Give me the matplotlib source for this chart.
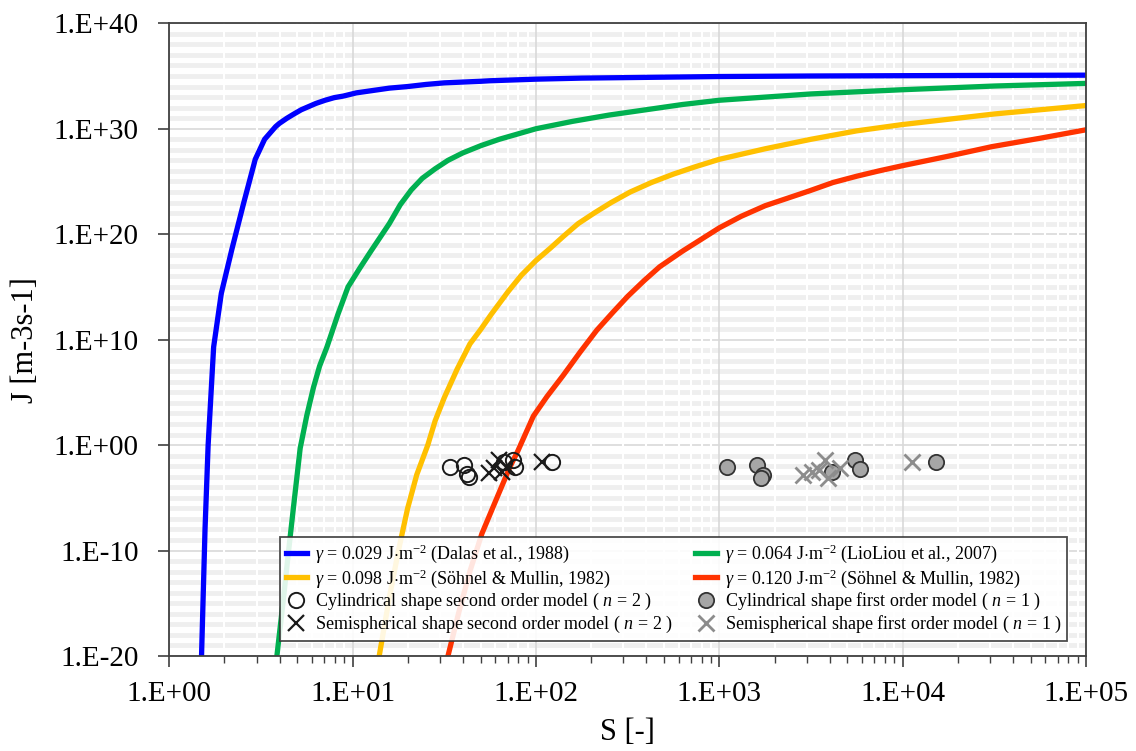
import numpy as np
import matplotlib.pyplot as plt
from matplotlib.ticker import FixedLocator, FuncFormatter, NullFormatter

plt.rcParams['font.family'] = ['Liberation Serif', 'DejaVu Serif']
plt.rcParams['mathtext.fontset'] = 'custom'
plt.rcParams['mathtext.rm'] = 'Liberation Serif'
plt.rcParams['mathtext.it'] = 'Liberation Serif:italic'

# curves: log10(S) and log10(J)
ls_blue = [0.176, 0.195, 0.212, 0.242, 0.284, 0.342, 0.405, 0.469, 0.52, 0.55, 0.58,
           0.60, 0.642, 0.68, 0.72, 0.76, 0.80, 0.85, 0.90, 0.95, 1.02, 1.1, 1.2,
           1.3, 1.4, 1.5, 1.7, 1.75, 2.0, 2.25, 2.5, 2.75, 3.0, 3.5, 4.0, 4.5, 5.0]
lj_blue = [-20, -8, 0, 9.3, 14.4, 18.6, 22.9, 27.1, 29.0, 29.6, 30.2,
           30.5, 31.0, 31.4, 31.8, 32.1, 32.4, 32.7, 32.95, 33.1, 33.4, 33.6, 33.85,
           34.0, 34.2, 34.35, 34.5, 34.55, 34.7, 34.8, 34.85, 34.9, 34.95, 35.0, 35.03, 35.06, 35.08]

ls_green = [0.587, 0.62, 0.651, 0.68, 0.714, 0.75, 0.787, 0.82, 0.86, 0.92, 0.975,
            1.04, 1.1, 1.2, 1.26, 1.32, 1.38, 1.45, 1.52, 1.6, 1.7, 1.8, 1.9,
            2.0, 2.2, 2.4, 2.6, 2.8, 3.0, 3.25, 3.5, 3.75, 4.0, 4.5, 5.0]
lj_green = [-20, -15, -10, -5.5, -0.3, 2.8, 5.5, 7.5, 9.3, 12.4, 15.0,
            16.8, 18.4, 21.0, 22.8, 24.2, 25.3, 26.2, 27.0, 27.7, 28.4, 29.0, 29.5,
            30.0, 30.7, 31.3, 31.8, 32.3, 32.7, 33.0, 33.3, 33.5, 33.7, 34.05, 34.3]

ls_yellow = [1.145, 1.2, 1.25, 1.3, 1.35, 1.41, 1.45, 1.50, 1.57, 1.64, 1.7,
             1.756, 1.85, 1.92, 2.0, 2.08, 2.15, 2.23, 2.317, 2.41, 2.514, 2.63,
             2.75, 2.87, 3.0, 3.25, 3.5, 3.75, 4.0, 4.25, 4.5, 4.75, 5.0]
lj_yellow = [-20, -14.5, -10, -6, -2.8, 0, 2.3, 4.5, 7.2, 9.6, 11.0,
             12.4, 14.6, 16.1, 17.5, 18.7, 19.8, 21.0, 22.0, 23.0, 24.0, 24.9,
             25.7, 26.4, 27.1, 28.1, 29.0, 29.8, 30.4, 30.9, 31.4, 31.8, 32.2]

ls_red = [1.52, 1.58, 1.641, 1.705, 1.787, 1.86, 1.90, 1.986, 2.06, 2.148, 2.24,
          2.332, 2.42, 2.5, 2.59, 2.674, 2.8, 2.9, 3.0, 3.12, 3.25, 3.37, 3.49,
          3.62, 3.75, 3.87, 4.0, 4.25, 4.486, 4.75, 5.0]
lj_red = [-20, -15.8, -11.9, -8.4, -5.0, -2.0, -0.6, 2.75, 4.6, 6.6, 8.8,
          10.9, 12.6, 14.1, 15.6, 16.9, 18.4, 19.5, 20.6, 21.7, 22.7, 23.4, 24.1,
          24.9, 25.5, 26.0, 26.5, 27.4, 28.3, 29.1, 29.9]

# experimental points
s_cyl2 = [34.0, 40.3, 42.0, 42.9, 67.0, 75.4, 77.0, 123]
lj_cyl2 = [-2.06, -1.9, -2.78, -3.0, -1.58, -1.42, -2.06, -1.58]
s_semi2 = [55.1, 58.7, 62.5, 65.2, 69.4, 107.7]
lj_semi2 = [-2.68, -2.2, -1.42, -2.53, -2.06, -1.58]
s_cyl1 = [1099, 1600, 1738, 1690, 4103, 5497, 5853, 15200]
lj_cyl1 = [-2.06, -1.9, -2.84, -3.13, -2.59, -1.42, -2.27, -1.64]
s_semi1 = [2875, 3194, 3500, 3776, 3928, 4571, 11200]
lj_semi1 = [-2.84, -2.53, -2.4, -1.42, -3.13, -2.18, -1.58]

fig = plt.figure(figsize=(11.36, 7.51), dpi=100)
ax = fig.add_axes([0.149, 0.1265, 0.807, 0.8425])

p = lambda v: 10 ** np.array(v, dtype=float)
l1, = ax.plot(p(ls_blue), p(lj_blue), color='#0000FF', lw=3.8,
              label=r'$\gamma$ = 0.029 J$\cdot$m$^{-2}$ (Dalas et al., 1988)')
l2, = ax.plot(p(ls_green), p(lj_green), color='#00B050', lw=3.8,
              label=r'$\gamma$ = 0.064 J$\cdot$m$^{-2}$ (LioLiou et al., 2007)')
l3, = ax.plot(p(ls_yellow), p(lj_yellow), color='#FFC000', lw=3.8,
              label=r'$\gamma$ = 0.098 J$\cdot$m$^{-2}$ (Söhnel & Mullin, 1982)')
l4, = ax.plot(p(ls_red), p(lj_red), color='#FF3300', lw=3.8,
              label=r'$\gamma$ = 0.120 J$\cdot$m$^{-2}$ (Söhnel & Mullin, 1982)')

m1, = ax.plot(s_cyl2, p(lj_cyl2), 'o', ms=11, mfc='none', mec='#1a1a1a', mew=1.4,
              label=r'Cylindrical shape second order model ( $n$ = 2 )')
m2, = ax.plot(s_semi2, p(lj_semi2), 'x', ms=11, color='#1a1a1a', mew=1.6,
              label=r'Semispherical shape second order model ( $n$ = 2 )')
m3, = ax.plot(s_cyl1, p(lj_cyl1), 'o', ms=11, mfc='#a6a6a6', mec='#333333', mew=1.3,
              label=r'Cylindrical shape first order model ( $n$ = 1 )')
m4, = ax.plot(s_semi1, p(lj_semi1), 'x', ms=11, color='#8c8c8c', mew=2.0,
              label=r'Semispherical shape first order model ( $n$ = 1 )')

ax.set_xscale('log')
ax.set_yscale('log')
ax.set_xlim(1, 1e5)
ax.set_ylim(1e-20, 1e40)

ax.yaxis.set_major_locator(FixedLocator(10.0 ** np.arange(-20, 41, 10)))
ax.yaxis.set_minor_locator(FixedLocator([10.0 ** k for k in range(-20, 41) if k % 10]))
fmt = FuncFormatter(lambda v, pos: '1.E%+03d' % int(round(np.log10(v))))
ax.xaxis.set_major_formatter(fmt)
ax.yaxis.set_major_formatter(fmt)
ax.xaxis.set_minor_formatter(NullFormatter())
ax.yaxis.set_minor_formatter(NullFormatter())

ax.tick_params(axis='both', which='major', labelsize=21, length=8, width=1.2,
               color='#404040', direction='out')
ax.tick_params(axis='x', which='major', pad=10)
ax.tick_params(axis='y', which='major', pad=14)
ax.tick_params(axis='x', which='minor', length=5, width=1.0, color='#404040')
ax.tick_params(axis='y', which='minor', length=0)

ax.yaxis.set_zorder(0.5)
ax.xaxis.set_zorder(0.6)
ax.grid(True, which='minor', axis='y', color='#efefef', lw=3.5)
ax.grid(True, which='minor', axis='x', color='white', lw=1.5)
ax.grid(True, which='major', axis='both', color='#d9d9d9', lw=1.2)

for sp in ax.spines.values():
    sp.set_color('#404040')
    sp.set_linewidth(1.3)

ax.set_xlabel('S [-]', fontsize=22, labelpad=8)
ax.set_ylabel('J [m-3s-1]', fontsize=22, labelpad=10)

leg = ax.legend(handles=[l1, l3, m1, m2, l2, l4, m3, m4], ncol=2,
                loc='lower left', bbox_to_anchor=(0.121, 0.024),
                fontsize=13, handlelength=1.2, handletextpad=0.45,
                labelspacing=0.1, columnspacing=1.2, borderaxespad=0, fancybox=False,
                edgecolor='#333333', framealpha=0.88, borderpad=0.3)
leg.get_frame().set_linewidth(1.3)

fig.savefig('out.png', dpi=100)
